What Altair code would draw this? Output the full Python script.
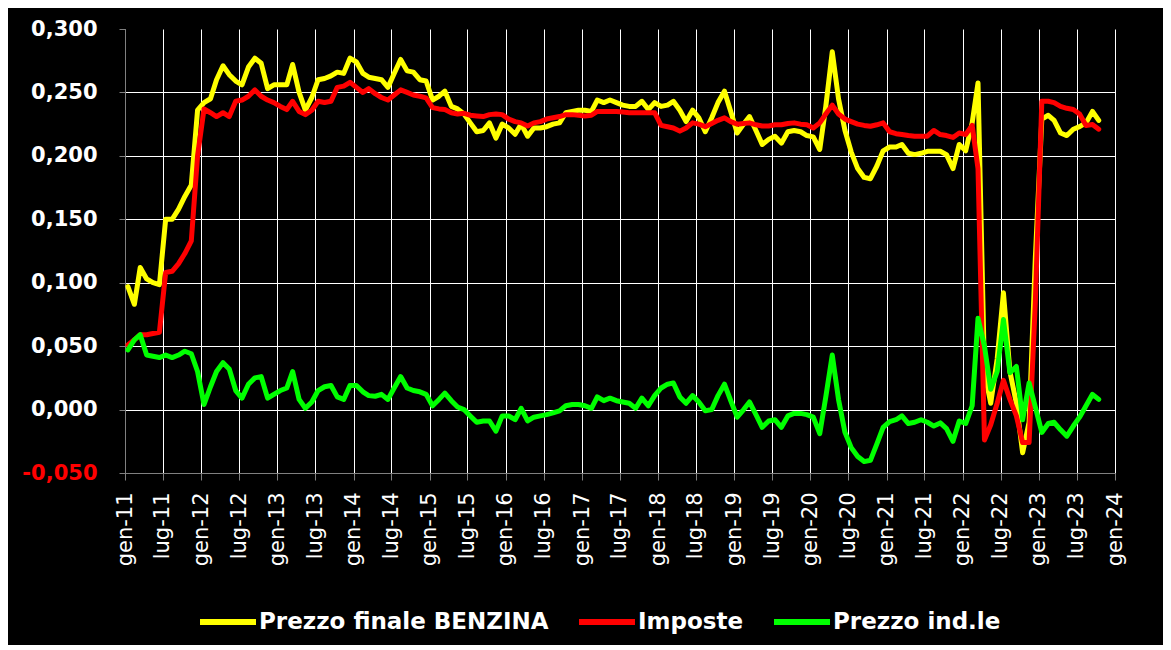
import altair as alt
import pandas as pd

# Monthly series, Jan 2011 - Oct 2023 (values in EUR/litre)
series_names = ["Prezzo finale BENZINA", "Imposte", "Prezzo ind.le"]
series_colors = ["#FFFF00", "#FF0000", "#00FF00"]

yellow = [
    0.097, 0.083, 0.112, 0.103, 0.100, 0.0985, 0.150, 0.150, 0.158, 0.168, 0.177, 0.236,
    0.242, 0.245, 0.260, 0.271, 0.264, 0.259, 0.256, 0.270, 0.277, 0.273, 0.253, 0.256,
    0.256, 0.256, 0.272, 0.250, 0.236, 0.246, 0.260, 0.261, 0.263, 0.266, 0.265, 0.277,
    0.274, 0.265, 0.262, 0.261, 0.260, 0.254, 0.265, 0.276, 0.267, 0.266, 0.260, 0.259,
    0.244, 0.247, 0.251, 0.239, 0.237, 0.233, 0.226, 0.219, 0.220, 0.226, 0.214, 0.225,
    0.222, 0.217, 0.225, 0.2155, 0.222, 0.222, 0.223, 0.225, 0.226, 0.234, 0.235, 0.236,
    0.236, 0.235, 0.244, 0.242, 0.244, 0.242, 0.240, 0.239, 0.239, 0.243, 0.2365, 0.242,
    0.239, 0.240, 0.243, 0.236, 0.227, 0.236, 0.230, 0.219, 0.230, 0.242, 0.251, 0.235,
    0.218, 0.225, 0.231, 0.220, 0.209, 0.213, 0.2155, 0.210, 0.219, 0.220, 0.219, 0.216,
    0.215, 0.205, 0.239, 0.282, 0.245, 0.220, 0.203, 0.190, 0.183, 0.182, 0.192, 0.204,
    0.207, 0.207, 0.209, 0.202, 0.201, 0.202, 0.2036, 0.2036, 0.2036, 0.201, 0.190, 0.209,
    0.204, 0.226, 0.2575, 0.030, 0.005, 0.040, 0.092, 0.030, 0.005, -0.034, -0.010, 0.120,
    0.229, 0.232, 0.228, 0.218, 0.216, 0.221, 0.223, 0.226, 0.235, 0.228,
]

red = [
    0.051, 0.055, 0.059, 0.059, 0.060, 0.061, 0.108, 0.109, 0.115, 0.123, 0.133, 0.200,
    0.237, 0.234, 0.231, 0.234, 0.231, 0.243, 0.244, 0.247, 0.252, 0.247, 0.244, 0.242,
    0.239, 0.2365, 0.243, 0.235, 0.2325, 0.236, 0.243, 0.242, 0.243, 0.254, 0.255, 0.258,
    0.254, 0.250, 0.253, 0.249, 0.246, 0.244, 0.248, 0.252, 0.250, 0.248, 0.247, 0.2457,
    0.238, 0.237, 0.2365, 0.234, 0.233, 0.2335, 0.232, 0.2315, 0.231, 0.2325, 0.233, 0.2325,
    0.229, 0.227, 0.226, 0.2235, 0.226, 0.227, 0.229, 0.230, 0.231, 0.2325, 0.2325, 0.232,
    0.2315, 0.232, 0.235, 0.235, 0.235, 0.235, 0.2345, 0.234, 0.234, 0.234, 0.234, 0.234,
    0.224, 0.223, 0.222, 0.2195, 0.222, 0.226, 0.225, 0.223, 0.2255, 0.228, 0.230, 0.227,
    0.225, 0.2255, 0.226, 0.2245, 0.2235, 0.2235, 0.2245, 0.2245, 0.2255, 0.226, 0.225, 0.2245,
    0.222, 0.226, 0.233, 0.240, 0.233, 0.229, 0.227, 0.225, 0.224, 0.2233, 0.2245, 0.226,
    0.219, 0.2175, 0.2168, 0.216, 0.2155, 0.2155, 0.2155, 0.220, 0.2168, 0.216, 0.2145, 0.218,
    0.2168, 0.224, 0.190, -0.024, -0.012, 0.005, 0.023, 0.008, -0.005, -0.026, -0.026, 0.085,
    0.243, 0.243, 0.242, 0.239, 0.2375, 0.2365, 0.233, 0.224, 0.2247, 0.221,
]

green = [
    0.047, 0.055, 0.059, 0.043, 0.042, 0.041, 0.043, 0.041, 0.043, 0.046, 0.044, 0.030,
    0.004, 0.018, 0.030, 0.037, 0.032, 0.015, 0.009, 0.020, 0.025, 0.026, 0.009, 0.012,
    0.015, 0.017, 0.030, 0.008, 0.001, 0.006, 0.015, 0.018, 0.019, 0.010, 0.008, 0.019,
    0.019, 0.014, 0.011, 0.0105, 0.012, 0.008, 0.017, 0.026, 0.017, 0.015, 0.014, 0.012,
    0.003, 0.008, 0.013, 0.007, 0.002, 0.000, -0.005, -0.010, -0.009, -0.009, -0.017, -0.005,
    -0.005, -0.008, 0.001, -0.009, -0.006, -0.005, -0.004, -0.0026, -0.001, 0.003, 0.004, 0.004,
    0.003, 0.001, 0.010, 0.007, 0.009, 0.007, 0.006, 0.005, 0.001, 0.009, 0.003, 0.011,
    0.017, 0.020, 0.021, 0.010, 0.005, 0.011, 0.006, -0.001, 0.000, 0.011, 0.020, 0.007,
    -0.006, 0.000, 0.006, -0.004, -0.014, -0.009, -0.008, -0.014, -0.005, -0.003, -0.003, -0.004,
    -0.006, -0.019, 0.010, 0.043, 0.008, -0.018, -0.030, -0.037, -0.041, -0.040, -0.027, -0.014,
    -0.0095, -0.008, -0.005, -0.011, -0.010, -0.008, -0.010, -0.013, -0.0105, -0.015, -0.025, -0.009,
    -0.011, 0.003, 0.072, 0.050, 0.016, 0.030, 0.071, 0.029, 0.034, -0.008, 0.021, 0.002,
    -0.018, -0.011, -0.010, -0.016, -0.021, -0.013, -0.006, 0.003, 0.012, 0.008,
]

y_ticks = [-0.05, 0.0, 0.05, 0.10, 0.15, 0.20, 0.25, 0.30]
x_tick_months = [(y, m) for y in range(2011, 2025) for m in (1, 7) if not (y == 2024 and m == 7)]

# ---------------------------------------------------------------------------
dates = pd.date_range("2011-01-01", periods=len(yellow), freq="MS") + pd.Timedelta(days=14)
df = pd.DataFrame({
    "date": list(dates) * 3,
    "value": yellow + red + green,
    "serie": [n for n, s in zip(series_names, [yellow, red, green]) for _ in s],
})

FONT = "DejaVu Sans"

x_enc = alt.X(
    "date:T",
    scale=alt.Scale(
        domain=[alt.DateTime(year=2011, month=1, date=1), alt.DateTime(year=2024, month=1, date=1)],
        nice=False,
    ),
    axis=alt.Axis(
        values=[alt.DateTime(year=y, month=m, date=1) for y, m in x_tick_months],
        labelExpr="(month(datum.value) == 0 ? 'gen-' : 'lug-') + timeFormat(datum.value, '%y')",
        labelAngle=270,
        labelFont=FONT,
        labelFontSize=21,
        labelColor="white",
        labelPadding=12,
        labelFlush=False,
        labelOverlap=False,
        grid=True,
        gridColor="white",
        gridWidth=1,
        domainColor="#808080",
        tickColor="#808080",
        tickSize=7,
        title=None,
    ),
)

y_enc = alt.Y(
    "value:Q",
    scale=alt.Scale(domain=[-0.05, 0.30], nice=False, zero=False),
    axis=alt.Axis(
        values=y_ticks,
        labelExpr="(datum.value < 0 ? '-' : '') + replace(format(abs(datum.value), '.3f'), '.', ',')",
        labelFont=FONT,
        labelFontSize=21,
        labelFontWeight="bold",
        labelColor={"condition": {"test": "datum.value < 0", "value": "#FF0000"}, "value": "#FFFFFF"},
        labelPadding=22,
        grid=True,
        gridColor="white",
        gridWidth=1,
        gridOpacity={"condition": {"test": "datum.value > 0.29", "value": 0}, "value": 1},
        domainColor="#808080",
        tickColor="#808080",
        tickSize=6,
        title=None,
    ),
)

color_enc = alt.Color(
    "serie:N",
    scale=alt.Scale(domain=series_names, range=series_colors),
    legend=alt.Legend(
        orient="none",
        legendX=72,
        legendY=562,
        direction="horizontal",
        title=None,
        symbolType="stroke",
        symbolStrokeWidth=6,
        symbolSize=3136,
        labelFont=FONT,
        labelFontWeight="bold",
        labelFontSize=23,
        labelColor="white",
        labelLimit=500,
        labelOffset=0,
        columnPadding=18,
    ),
)

base = alt.Chart(df).encode(x=x_enc, y=y_enc, color=color_enc)

layers = [
    base.transform_filter(alt.datum.serie == name).mark_line(
        strokeWidth=5, strokeJoin="round", strokeCap="round"
    )
    for name in series_names
]

chart = (
    alt.layer(*layers)
    .properties(
        width=990,
        height=444,
        background="black",
        padding={"left": 117, "top": 21, "right": 48, "bottom": 172},
        autosize=alt.AutoSizeParams(type="none"),
    )
    .configure_view(stroke=None)
)

chart.save("out.html", embed_options={"renderer": "svg", "actions": False})
